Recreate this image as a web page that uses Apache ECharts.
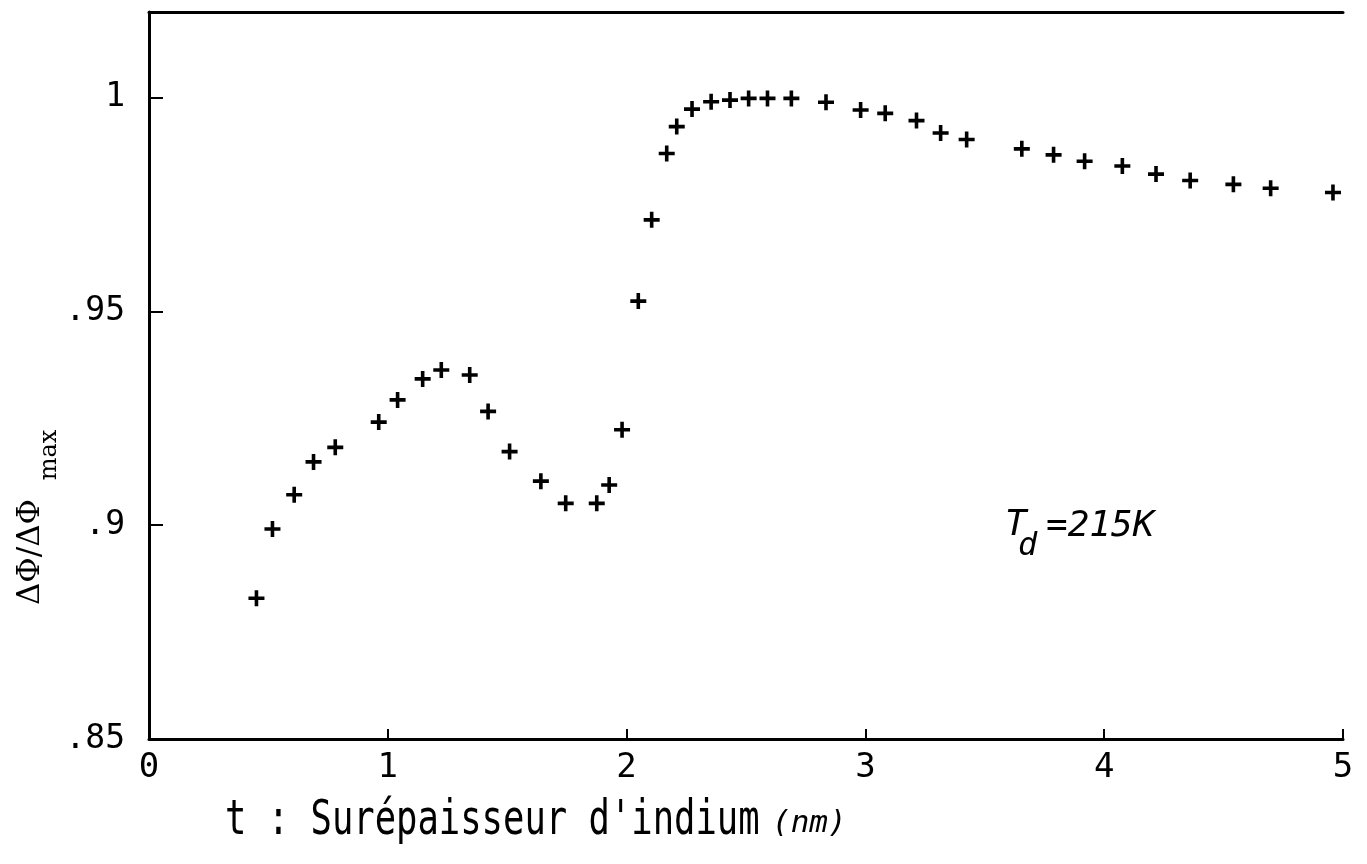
<!DOCTYPE html>
<html>
<head>
<meta charset="utf-8">
<script src="https://cdn.jsdelivr.net/npm/echarts@6/dist/echarts.min.js"></script>
<style>
html,body{margin:0;padding:0;background:#fff;}
#chart{width:1367px;height:864px;}
</style>
</head>
<body>
<div id="chart"></div>
<script>
// Data
var thickness = [0.450,0.517,0.608,0.689,0.780,0.962,1.041,1.146,1.224,1.343,1.420,1.510,1.641,1.745,1.875,1.927,1.981,2.049,2.105,2.168,2.210,2.274,2.354,2.433,2.511,2.590,2.690,2.835,2.980,3.083,3.214,3.315,3.424,3.655,3.788,3.918,4.076,4.217,4.360,4.541,4.697,4.958];
var ratio = [0.8829,0.8991,0.9071,0.9148,0.9182,0.9241,0.9293,0.9342,0.9363,0.9351,0.9266,0.9172,0.9103,0.9051,0.9051,0.9094,0.9223,0.9524,0.9714,0.9869,0.9932,0.9973,0.9990,0.9994,0.9998,0.9998,0.9998,0.9989,0.9971,0.9963,0.9946,0.9917,0.9902,0.9880,0.9866,0.9851,0.9840,0.9821,0.9806,0.9797,0.9788,0.9778];
var xTickValues = [0,1,2,3,4,5];
var xTickLabels = ['0','1','2','3','4','5'];
var yTickValues = [0.85,0.90,0.95,1.00];
var yTickLabels = ['.85','.9','.95','1'];
var xAxisTitle = "t : Surépaisseur d'indium";
var xAxisUnit = "(nm)";
var yAxisTitle = "ΔΦ/ΔΦ";
var yAxisSub = "max";
var annotation = {main: "T", sub: "d", rest: "=215K"};

var points = thickness.map(function(x,i){return [x, ratio[i]];});
function lookup(vals, labs, v){
  for (var i=0;i<vals.length;i++){ if (Math.abs(vals[i]-v)<1e-6) return labs[i]; }
  return '';
}
var MONO = '"DejaVu Sans Mono", "Liberation Mono", monospace';
var plus = 'path://M-1.8,-8 L1.8,-8 L1.8,-1.8 L8,-1.8 L8,1.8 L1.8,1.8 L1.8,8 L-1.8,8 L-1.8,1.8 L-8,1.8 L-8,-1.8 L-1.8,-1.8 Z';

var chart = echarts.init(document.getElementById('chart'), null, {renderer:'canvas'});
chart.setOption({
  animation: false,
  backgroundColor: '#fff',
  grid: {left:149, right:24, top:12, bottom:125, containLabel:false},
  xAxis: [{
    type:'value', min:0, max:5, interval:1, position:'bottom',
    axisLine:{show:true, lineStyle:{color:'#000', width:3}},
    axisTick:{show:true, inside:true, length:10, lineStyle:{color:'#000', width:2}},
    axisLabel:{color:'#000', fontFamily:MONO, fontSize:34, margin:12,
      formatter:function(v){return lookup(xTickValues, xTickLabels, v);}},
    splitLine:{show:false}
  },{
    type:'value', min:0, max:5, interval:1, position:'top',
    axisLine:{show:true, lineStyle:{color:'#000', width:3}},
    axisTick:{show:false}, axisLabel:{show:false}, splitLine:{show:false}
  }],
  yAxis: [{
    type:'value', min:0.85, max:1.02, interval:0.05, position:'left',
    axisLine:{show:true, lineStyle:{color:'#000', width:3}},
    axisTick:{show:true, inside:true, length:14, lineStyle:{color:'#000', width:2}},
    axisLabel:{color:'#000', fontFamily:MONO, fontSize:33, margin:24, showMaxLabel:false,
      formatter:function(v){return lookup(yTickValues, yTickLabels, v);}},
    splitLine:{show:false}
  },{
    type:'value', min:0.85, max:1.02, interval:0.05, position:'right',
    axisLine:{show:true, lineStyle:{color:'#000', width:2}},
    axisTick:{show:false}, axisLabel:{show:false}, splitLine:{show:false}
  }],
  series: [{
    type:'scatter', data: points, symbol: plus, symbolSize: 16,
    itemStyle:{color:'#000', opacity:1}, silent:true
  }],
  graphic: [
    {type:'text', x:225, y:822, scaleX:0.74, style:{text:xAxisTitle, font:'48px '+MONO, fill:'#000', textVerticalAlign:'middle'}},
    {type:'text', x:772, y:824, style:{text:xAxisUnit, font:'italic 31px '+MONO, fill:'#000', textVerticalAlign:'middle'}},
    {type:'text', x:31, y:552, rotation:Math.PI/2, style:{text:yAxisTitle, font:'31px "DejaVu Serif", "Liberation Serif", serif', fill:'#000', textAlign:'center', textVerticalAlign:'middle'}},
    {type:'text', x:50, y:455, rotation:Math.PI/2, style:{text:yAxisSub, font:'24px "DejaVu Serif", "Liberation Serif", serif', fill:'#000', textAlign:'center', textVerticalAlign:'middle'}},
    {type:'text', x:1005, y:526, style:{text:annotation.main, font:'italic 36px '+MONO, fill:'#000', textVerticalAlign:'middle'}},
    {type:'text', x:1018, y:547, style:{text:annotation.sub, font:'italic 32px '+MONO, fill:'#000', textVerticalAlign:'middle'}},
    {type:'text', x:1046, y:527, style:{text:annotation.rest, font:'italic 36px '+MONO, fill:'#000', textVerticalAlign:'middle'}}
  ]
});
</script>
</body>
</html>
